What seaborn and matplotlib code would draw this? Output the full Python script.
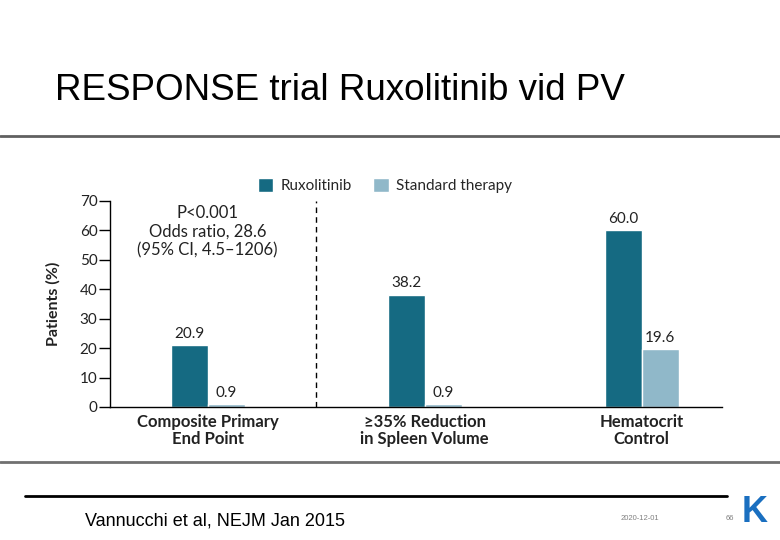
import matplotlib
matplotlib.use("Agg")
import matplotlib.pyplot as plt
import seaborn as sns
import pandas as pd

categories = ["Composite Primary\nEnd Point", "\u226535% Reduction\nin Spleen Volume", "Hematocrit\nControl"]
ruxolitinib = [20.9, 38.2, 60.0]
standard = [0.9, 0.9, 19.6]
series_names = ["Ruxolitinib", "Standard therapy"]
yticks = [0, 10, 20, 30, 40, 50, 60, 70]
colors = ["#156a82", "#90b8c9"]

df = pd.DataFrame({
    "category": categories * 2,
    "value": ruxolitinib + standard,
    "series": [series_names[0]] * 3 + [series_names[1]] * 3,
})

sns.set_style("white")
plt.rcParams["font.family"] = ["Lato", "DejaVu Sans"]

fig = plt.figure(figsize=(7.8, 5.4), dpi=100)
ax = fig.add_axes([110 / 780, 1 - 407 / 540, 612 / 780, 206 / 540])

sns.barplot(data=df, x="category", y="value", hue="series", palette=colors,
            width=0.34, saturation=1, ax=ax, legend=True)

ax.set_xlim(-0.45, 2.37)
ax.set_ylim(0, 70)
ax.set_yticks(yticks)
ax.set_yticklabels([str(t) for t in yticks], fontsize=11, color="#222222")
ax.tick_params(axis="y", direction="out", length=8, width=1, color="black", pad=1, left=True)
ax.tick_params(axis="x", length=0, pad=5)
for lbl in ax.get_xticklabels():
    lbl.set_fontweight("bold")
    lbl.set_fontsize(12)
    lbl.set_color("#222222")
    lbl.set_linespacing(1.05)
ax.set_xlabel("")
ax.set_ylabel("Patients (%)", fontsize=11.5, fontweight="bold", color="#222222", labelpad=14)
for s in ["top", "right"]:
    ax.spines[s].set_visible(False)
ax.spines["left"].set_color("black")
ax.spines["bottom"].set_color("black")
ax.spines["left"].set_linewidth(1)
ax.spines["bottom"].set_linewidth(1)

for cont in ax.containers:
    ax.bar_label(cont, fmt="%.1f", padding=3, fontsize=11, color="#222222")

ax.axvline(0.5, ymin=0, ymax=1.0, color="black", linestyle=(0, (4, 3)), linewidth=1)

ax.text(0, 59.5, "P<0.001\nOdds ratio, 28.6\n(95% CI, 4.5\u20131206)", ha="center", va="center",
        fontsize=12, color="#222222", linespacing=1.2)

handles, labels = ax.get_legend_handles_labels()
ax.legend(handles, labels, loc="lower left", bbox_to_anchor=(137 / 612, 0.985), ncol=2,
          frameon=False, fontsize=11, handlelength=1.0, handleheight=1.0,
          handletextpad=0.5, columnspacing=1.4, borderaxespad=0.3)

# slide decorations
fig.text(55 / 780, 1 - 91 / 540, "RESPONSE trial Ruxolitinib vid PV", fontsize=26.5,
         family=["Liberation Sans", "DejaVu Sans"], ha="left", va="center", color="black")
fig.add_artist(plt.Line2D([0, 1], [1 - 136 / 540] * 2, color="#606060", linewidth=2))
fig.add_artist(plt.Line2D([0, 1], [1 - 462 / 540] * 2, color="#707070", linewidth=2))
fig.add_artist(plt.Line2D([25 / 780, 727 / 780], [1 - 496 / 540] * 2, color="black", linewidth=2))
fig.text(85 / 780, 1 - 521 / 540, "Vannucchi et al, NEJM Jan 2015", fontsize=13,
         family=["Liberation Sans", "DejaVu Sans"], ha="left", va="center", color="black")
fig.text(640 / 780, 1 - 518 / 540, "2020-12-01", fontsize=5.5,
         family=["Liberation Sans", "DejaVu Sans"], ha="center", va="center", color="#808080")
fig.text(730 / 780, 1 - 518 / 540, "66", fontsize=5.5,
         family=["Liberation Sans", "DejaVu Sans"], ha="center", va="center", color="#808080")
fig.text(755 / 780, 1 - 513 / 540, "K", fontsize=26, fontweight="bold",
         family=["Liberation Sans", "DejaVu Sans"], ha="center", va="center", color="#1a6fc0")

fig.savefig("out.png", dpi=100)
